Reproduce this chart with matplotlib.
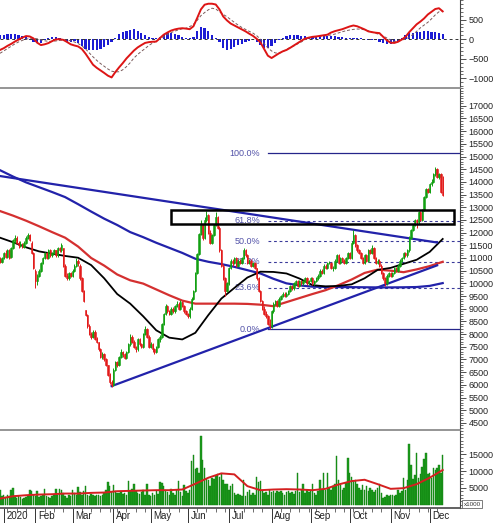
import numpy as np
import pandas as pd
import matplotlib
matplotlib.use('Agg')
import matplotlib.pyplot as plt
from matplotlib.patches import Rectangle
from matplotlib.ticker import MultipleLocator, FixedLocator
from matplotlib.transforms import ScaledTranslation

plt.rcParams['font.family'] = ['Liberation Sans', 'DejaVu Sans']

# trading calendar (HOSE 2020)
holidays = ['2020-01-01', '2020-01-23', '2020-01-24', '2020-01-27', '2020-01-28',
            '2020-01-29', '2020-04-02', '2020-04-30', '2020-05-01', '2020-09-02']
days = pd.bdate_range('2019-12-30', '2020-12-10')
days = days[~days.isin(pd.to_datetime(holidays))]

# daily OHLC, one row per month
opens = [10950, 10850,
    11000, 11200, 11050, 11300, 11050, 11400, 11700, 11800, 11600, 11500, 11550, 11450, 11600, 11800, 11900, 11600, 11200,
    10500, 10100, 10300, 10500, 10800, 11000, 11200, 11000, 11300, 11100, 11200, 11300, 11100, 11400, 11300, 11400, 10700, 10300, 10200, 10400,
    10300, 10500, 10700, 10900, 10700, 10200, 9700, 8950, 8750, 8300, 8000, 7900, 8100, 7800, 7700, 7400, 7100, 7200, 7000, 6800, 6400, 6100,
    6000, 6600, 6900, 6800, 7100, 7300, 7200, 7050, 7300, 7600, 7900, 7700, 7500, 7400, 7800, 7600, 7500, 8000, 8200, 7900,
    7500, 7600, 7400, 7300, 7500, 7800, 7900, 8400, 8800, 9100, 8900, 8800, 9000, 8900, 9100, 9200, 9000, 9250, 9100, 8900,
    8800, 8700, 9000, 9400, 9700, 10400, 11150, 11950, 12300, 11800, 12500, 12700, 12000, 11600, 11900, 12300, 12600, 12200, 11300, 10700, 10200, 9700,
    10000, 10600, 10900, 10800, 11000, 10700, 10900, 10800, 11000, 11300, 11100, 10800, 10900, 10700, 10800, 10600, 10200, 9700, 9300, 9000, 8800, 8700, 8400,
    8300, 8900, 9200, 9300, 9100, 9400, 9500, 9600, 9500, 9600, 9700, 9900, 9800, 10000, 10100, 9900, 10100, 10000, 10100, 10200, 10000,
    10100, 10200, 10000, 10100, 10200, 10300, 10500, 10400, 10700, 10600, 10800, 10800, 10600, 10600, 10900, 11100, 10800, 11000, 10900, 10800, 11000,
    11200, 11000, 11600, 11900, 11500, 11300, 11200, 11000, 10800, 11100, 10900, 11300, 11200, 11400, 11000, 10800, 10900, 10700, 10400, 10200, 10000, 10300,
    10400, 10300, 10400, 10600, 10500, 10700, 10900, 11000, 11200, 11100, 11300, 11800, 12100, 12300, 12500, 12400, 12800, 12500, 12900, 13400, 13700,
    13600, 13900, 14000, 14300, 14500, 14200, 14300, 13600]
highs = [11050, 11050,
    11250, 11300, 11350, 11350, 11450, 11750, 11900, 11850, 11650, 11650, 11600, 11650, 11850, 12000, 11950, 11650, 11250,
    10550, 10350, 10550, 10850, 11050, 11250, 11250, 11350, 11350, 11250, 11350, 11300, 11450, 11450, 11600, 11400, 10750, 10400, 10450, 10450,
    10550, 10750, 11000, 10950, 10750, 10250, 9750, 8950, 8800, 8400, 8100, 8150, 8150, 7900, 7700, 7450, 7300, 7250, 7050, 6800, 6450, 6200,
    6650, 6950, 6950, 7150, 7400, 7350, 7250, 7350, 7650, 8000, 7950, 7750, 7550, 7850, 7850, 7650, 8050, 8300, 8250, 7950,
    7700, 7650, 7450, 7550, 7850, 7950, 8450, 8850, 9200, 9150, 8950, 9050, 9050, 9150, 9300, 9250, 9350, 9300, 9150, 8950,
    8850, 9050, 9450, 9750, 10450, 11200, 12000, 12500, 12350, 12600, 12850, 12750, 12100, 11950, 12350, 12800, 12650, 12250, 11350, 10750, 10250, 10050,
    10650, 10950, 10950, 11050, 11050, 10950, 10950, 11050, 11400, 11350, 11150, 10950, 10950, 10850, 10850, 10600, 10250, 9750, 9350, 9100, 8900, 8750, 8600,
    8950, 9250, 9350, 9350, 9450, 9550, 9650, 9650, 9650, 9750, 9950, 9950, 10050, 10150, 10150, 10150, 10150, 10150, 10250, 10250, 10150,
    10250, 10250, 10150, 10250, 10350, 10550, 10550, 10750, 10750, 10850, 10900, 10850, 10700, 10950, 11150, 11150, 11050, 11050, 10950, 11050, 11250,
    11250, 11650, 12100, 11950, 11550, 11350, 11250, 11050, 11150, 11150, 11350, 11350, 11500, 11450, 11050, 10950, 10950, 10750, 10450, 10250, 10350, 10450,
    10450, 10450, 10650, 10650, 10750, 10950, 11050, 11250, 11250, 11350, 11850, 12150, 12350, 12550, 12550, 12850, 12850, 12950, 13450, 13750, 13750,
    13950, 14100, 14350, 14600, 14550, 14350, 14350, 14250]
lows = [10800, 10800,
    10950, 11000, 11000, 10950, 11000, 11350, 11600, 11550, 11400, 11450, 11400, 11400, 11550, 11750, 11650, 11150, 10550,
    9800, 9950, 10250, 10450, 10750, 10950, 10950, 10950, 11050, 11050, 11150, 11050, 11050, 11250, 11250, 10650, 10250, 10150, 10150, 10250,
    10250, 10450, 10650, 10700, 10150, 9650, 9250, 8700, 8250, 7950, 7800, 7850, 7750, 7650, 7350, 7050, 7000, 6950, 6750, 6350, 6050, 5900,
    5950, 6550, 6700, 6750, 7050, 7100, 7000, 7000, 7250, 7550, 7650, 7450, 7300, 7350, 7550, 7450, 7450, 7950, 7850, 7450,
    7450, 7300, 7200, 7250, 7450, 7700, 7850, 8350, 8750, 8850, 8750, 8750, 8850, 8850, 9050, 8950, 8950, 9050, 8850, 8750,
    8650, 8650, 8950, 9350, 9650, 10350, 11100, 11900, 11700, 11750, 12400, 11950, 11550, 11550, 11850, 12250, 12150, 11250, 10650, 10150, 9500, 9650,
    9950, 10550, 10700, 10750, 10650, 10650, 10750, 10750, 10950, 11050, 10750, 10750, 10650, 10650, 10550, 10150, 9650, 9250, 8950, 8750, 8650, 8350, 8200,
    8250, 8850, 9150, 9050, 9050, 9350, 9450, 9450, 9450, 9550, 9650, 9750, 9750, 9950, 9850, 9850, 9950, 9950, 10050, 9950, 9950,
    10050, 9950, 9950, 10050, 10150, 10250, 10350, 10350, 10550, 10550, 10750, 10550, 10500, 10550, 10850, 10750, 10750, 10850, 10750, 10750, 10950,
    10950, 10950, 11550, 11450, 11250, 11150, 10950, 10750, 10750, 10850, 10850, 11150, 11150, 10950, 10750, 10750, 10650, 10350, 10150, 9900, 9950, 10250,
    10250, 10250, 10350, 10450, 10450, 10650, 10850, 10950, 11050, 11050, 11250, 11750, 12050, 12250, 12200, 12350, 12450, 12450, 12850, 13350, 13550,
    13550, 13850, 13950, 14250, 14150, 14100, 13550, 13450]
closes = [10850, 11000,
    11200, 11050, 11300, 11000, 11400, 11700, 11800, 11600, 11500, 11550, 11450, 11600, 11800, 11900, 11700, 11200, 10600,
    10100, 10300, 10500, 10800, 11000, 11200, 11000, 11300, 11100, 11200, 11300, 11100, 11400, 11300, 11500, 10700, 10300, 10200, 10400, 10300,
    10500, 10700, 10900, 10800, 10200, 9700, 9300, 8750, 8300, 8000, 7900, 8100, 7800, 7700, 7400, 7100, 7200, 7000, 6800, 6400, 6100, 6000,
    6600, 6900, 6800, 7100, 7300, 7200, 7050, 7300, 7600, 7900, 7700, 7500, 7400, 7800, 7600, 7500, 8000, 8200, 7900, 7500,
    7600, 7400, 7300, 7500, 7800, 7900, 8400, 8800, 9100, 8900, 8800, 9000, 8900, 9100, 9200, 9000, 9250, 9100, 8900, 8800,
    8700, 9000, 9400, 9700, 10400, 11150, 11950, 12300, 11800, 12500, 12700, 12000, 11600, 11900, 12300, 12600, 12200, 11300, 10700, 10200, 9700, 10000,
    10600, 10900, 10800, 11000, 10700, 10900, 10800, 11000, 11300, 11100, 10800, 10900, 10700, 10800, 10600, 10200, 9700, 9300, 9000, 8800, 8700, 8400, 8300,
    8900, 9200, 9300, 9100, 9400, 9500, 9600, 9500, 9600, 9700, 9900, 9800, 10000, 10100, 9900, 10100, 10000, 10100, 10200, 10000, 10100,
    10200, 10000, 10100, 10200, 10300, 10500, 10400, 10700, 10600, 10800, 10800, 10600, 10600, 10900, 11100, 10800, 11000, 10900, 10800, 11000, 11200,
    11000, 11600, 11900, 11500, 11300, 11200, 11000, 10800, 11100, 10900, 11300, 11200, 11400, 11000, 10800, 10900, 10700, 10400, 10200, 10000, 10300, 10400,
    10300, 10400, 10600, 10500, 10700, 10900, 11000, 11200, 11100, 11300, 11800, 12100, 12300, 12500, 12400, 12800, 12500, 12900, 13400, 13700, 13600,
    13900, 14000, 14300, 14500, 14200, 14300, 13600, 13500]

# volume (x1000 shares)
volume = [4300, 2500,
    3000, 2200, 2800, 2500, 4500, 4900, 2500, 2000, 2500, 2200, 1800, 2000, 2300, 2600, 4300, 4200, 3000,
    2500, 4000, 2200, 2500, 2800, 4600, 2500, 2200, 2000, 2500, 3000, 4600, 2800, 4800, 4400, 3600, 2500, 2000, 3000, 2500,
    4500, 3500, 2800, 5200, 3800, 3000, 4000, 5600, 3000, 2500, 3200, 2800, 2600, 3000, 2800, 2500, 3000, 3500, 4500, 6800, 5500, 3800,
    5800, 4200, 3500, 3400, 3800, 3200, 3500, 3000, 7000, 4200, 4800, 6000, 4000, 3500, 3200, 3800, 4500, 2800, 6200, 3000,
    2500, 3500, 2800, 4000, 3200, 6800, 6500, 5500, 4500, 3800, 2800, 4800, 3500, 3000, 4500, 7000, 3800, 2500, 5800, 4000,
    3600, 4500, 13000, 14800, 10500, 11000, 9500, 20300, 13300, 11000, 7500, 7400, 5500, 8000, 7500, 8600, 9000, 8300, 9000, 7200, 6000, 6200,
    4500, 5500, 6000, 3500, 3000, 3200, 2800, 2500, 7300, 2500, 3800, 4300, 2800, 3500, 2800, 8300, 6800, 7000, 4000, 3500, 3800, 3000, 4500,
    3800, 4200, 3500, 4000, 3800, 4200, 3500, 3000, 3800, 4000, 3500, 3800, 3200, 4200, 9300, 3800, 4500, 6000, 3500, 4300, 3800,
    4300, 6000, 3500, 2800, 4000, 7300, 4300, 9300, 4500, 9300, 5000, 4500, 5500, 6000, 14600, 7300, 5800, 4500, 5000, 6500, 13900,
    9300, 8300, 7000, 7300, 6000, 5000, 4500, 5800, 4500, 5500, 4000, 5000, 4300, 3800, 4500, 5000, 6000, 3500, 2000, 2300, 2800, 2500,
    3000, 2800, 2500, 3000, 4300, 3500, 4000, 8000, 4500, 7300, 18100, 11800, 7500, 8800, 15300, 7800, 9000, 11300, 13500, 15300, 9000,
    9300, 8000, 10800, 10300, 11000, 11800, 9500, 14800]

# moving averages read every 7th session
ma_black = [11800, 11620, 11420, 11260, 11170, 11080, 11010, 10720, 10200, 9580, 9200, 8700,
            8150, 7860, 7790, 8050, 8750, 9400, 9820, 10230, 10460, 10450, 10390, 10190,
            9930, 9880, 9900, 9960, 10200, 10530, 10610, 10770, 10930, 11240, 11750]
ma_red = [12850, 12670, 12470, 12250, 12020, 11800, 11450, 11000, 10700, 10350, 10120, 9990,
          9760, 9530, 9320, 9200, 9200, 9200, 9200, 9190, 9160, 9100, 9260, 9420,
          9580, 9730, 9930, 10150, 10410, 10540, 10500, 10440, 10550, 10680, 10850]
ma_blue = [14460, 14210, 13980, 13790, 13600, 13400, 13120, 12830, 12550, 12300, 12020, 11820,
           11600, 11400, 11200, 10970, 10850, 10760, 10650, 10520, 10390, 10180, 10000, 9920,
           9870, 9860, 9855, 9850, 9845, 9840, 9840, 9845, 9855, 9900, 10010]
vol_ma = [1800, 2500, 2800, 3000, 3100, 3300, 3300, 3500, 3600, 4000, 4100, 4200,
          4300, 4300, 4500, 6200, 8000, 9300, 9000, 5500, 4300, 4500, 4600, 4500,
          4300, 4700, 6000, 7000, 7400, 6100, 4700, 4900, 6100, 8000, 10300]

# MACD panel, read every 2nd session
macd = [-275, -230, -170, -120, -60, -10, 40, 80, 70, 20,
        -90, -150, -130, -100, -50, -5, 0, -17, -70, -130,
        -160, -185, -250, -370, -510, -650, -730, -795, -860, -930,
        -975, -840, -720, -610, -490, -390, -290, -210, -150, -95,
        -75, -65, -60, 30, 115, 170, 220, 250, 270, 280,
        270, 255, 330, 540, 760, 880, 905, 905, 885, 760,
        580, 480, 400, 350, 300, 250, 200, 140, 85, 10,
        -80, -250, -420, -480, -420, -360, -310, -275, -220, -160,
        -100, -40, 15, 40, 60, 70, 85, 100, 115, 170,
        205, 230, 255, 290, 325, 350, 330, 290, 250, 200,
        180, 165, 155, 60, -30, -90, -95, -65, -10, 60,
        180, 280, 380, 450, 530, 630, 700, 770, 790, 710]
signal = [-360, -300, -240, -180, -120, -70, -30, 0, 20, 25,
          10, -15, -40, -55, -55, -45, -30, -20, -20, -40,
          -70, -110, -170, -250, -350, -450, -540, -620, -690, -760,
          -815, -835, -830, -780, -700, -600, -480, -390, -310, -240,
          -160, -100, -50, 0, 60, 120, 170, 205, 240, 265,
          280, 320, 380, 480, 600, 680, 750, 790, 770, 700,
          630, 575, 500, 430, 360, 300, 250, 200, 155, 90,
          0, -110, -220, -300, -350, -360, -320, -260, -210, -170,
          -120, -70, -10, 25, 45, 60, 70, 80, 90, 110,
          130, 160, 190, 215, 235, 250, 260, 255, 240, 215,
          180, 150, 120, 80, 30, -20, -60, -40, -20, 0,
          50, 120, 200, 290, 360, 430, 520, 620, 700, 730]
hist = [100, 110, 120, 125, 120, 110, 90, 60, -20, -70,
        -100, -90, -30, 30, 50, 45, 20, -30, -60, -60,
        -40, -90, -170, -240, -280, -280, -270, -250, -200, -150,
        -80, 40, 120, 180, 220, 245, 250, 220, 170, 110,
        60, 30, 25, 60, 130, 150, 150, 140, 100, 50,
        30, 20, 60, 200, 300, 280, 200, 100, 20, -80,
        -230, -280, -250, -200, -160, -120, -80, -50, -20, -60,
        -150, -230, -230, -180, -100, -20, 40, 80, 100, 100,
        100, 90, 80, 60, 50, 50, 60, 70, 80, 80,
        70, 60, 50, 40, 40, 40, 30, 20, 0, -20,
        -30, -30, -60, -100, -110, -110, -90, -40, 40, 110,
        150, 170, 180, 190, 200, 200, 190, 180, 160, 120]

# drawn objects: trend lines (session index, price), fibonacci, resistance box
trend_down = ([0, 235], [14230, 11610])
trend_up = ([60, 235], [5950, 10710])
fib_low, fib_high = 8200, 15120
fib_ratios = [0.0, 0.236, 0.382, 0.5, 0.618, 1.0]
fib_labels = ['0.0%', '23.6%', '38.2%', '50.0%', '61.8%', '100.0%']
fib_start = 144
box_sessions = (92, 244)
box_prices = (12320, 12880)

n = len(days)
for arr in (opens, highs, lows, closes, volume):
    assert len(arr) == n, len(arr)
x = np.arange(n)
o = np.array(opens); h = np.array(highs); l = np.array(lows); c = np.array(closes)
x_ma = np.arange(0, n, 7)
x_macd = np.arange(0, n, 2)

UP, DOWN = '#12a012', '#e21b1b'
NAVY = '#2222aa'

fig = plt.figure(figsize=(5.0, 5.23), dpi=100)
ax_m = fig.add_axes([0, 1 - 88/523, 0.92, 88/523])
ax_p = fig.add_axes([0, 1 - 430/523, 0.92, (430 - 88)/523])
ax_v = fig.add_axes([0, 1 - 508/523, 0.92, (508 - 430)/523])

xmax = 247.3
for ax in (ax_m, ax_p, ax_v):
    ax.set_xlim(0, xmax)
    ax.yaxis.tick_right()
    ax.spines['left'].set_visible(False)
    for s in ('top', 'bottom'):
        ax.spines[s].set_color('#8c8c8c')
        ax.spines[s].set_linewidth(1.3)
    ax.spines['right'].set_color('#444444')
    ax.spines['right'].set_linewidth(0.8)
    ax.tick_params(axis='y', which='major', length=4.5, width=0.6, pad=1.5,
                   labelsize=6.5, colors='#333333', labelcolor='#222222')
    ax.tick_params(axis='y', which='minor', length=2, width=0.5, colors='#333333')
ax_m.spines['top'].set_visible(False)
ax_m.spines['bottom'].set_visible(False)
ax_p.spines['bottom'].set_visible(False)
for ax in (ax_m, ax_p):
    ax.tick_params(axis='x', which='both', bottom=False, labelbottom=False)

# ---- MACD ----
ax_m.bar(x_macd, hist, width=1.2, color='#1c1cd4', linewidth=0)
ax_m.axhline(0, color='#333333', lw=0.7, ls=(0, (3, 3)))
ax_m.plot(x_macd, signal, color='#7a5a5a', lw=0.7, ls=(0, (3, 2)))
ax_m.plot(x_macd, macd, color='#dd1515', lw=1.4)
ax_m.set_ylim(-1245, 1000)
ax_m.yaxis.set_major_locator(FixedLocator([-1000, -500, 0, 500]))
ax_m.yaxis.set_minor_locator(MultipleLocator(100))

# ---- price ----
ax_p.plot(x_ma, ma_blue, color=NAVY, lw=1.6, zorder=2)
ax_p.plot(x_ma, ma_red, color='#d43030', lw=1.6, zorder=2)
ax_p.plot(x_ma, ma_black, color='black', lw=1.3, zorder=2)
ax_p.plot(*trend_down, color=NAVY, lw=1.6, zorder=2)
ax_p.plot(*trend_up, color=NAVY, lw=1.6, zorder=2)

for r, lab in zip(fib_ratios, fib_labels):
    lvl = fib_low + r * (fib_high - fib_low)
    if r in (0.0, 1.0):
        ax_p.plot([fib_start, xmax], [lvl, lvl], color='#25258a', lw=0.9, zorder=1)
    else:
        ax_p.plot([fib_start, xmax], [lvl, lvl], color='#3a3a9a', lw=0.8,
                  ls=(0, (2.5, 2.5)), zorder=1)
    ax_p.text(fib_start - 4.2, lvl, lab, ha='right', va='center', fontsize=6.5,
              color='#5252a8', zorder=1)

ax_p.add_patch(Rectangle((box_sessions[0], box_prices[0]), box_sessions[1] - box_sessions[0],
                         box_prices[1] - box_prices[0], fill=False, ec='black', lw=1.8, zorder=4))

col = np.where(c >= o, UP, DOWN)
ax_p.vlines(x, l, h, colors=col, lw=0.7, zorder=3)
ax_p.bar(x, c - o, bottom=o, width=0.75, color=col, edgecolor=col, linewidth=0.4, zorder=3)

ax_p.set_ylim(4220, 17700)
ax_p.yaxis.set_major_locator(FixedLocator(np.arange(4500, 17001, 500)))
ax_p.yaxis.set_minor_locator(MultipleLocator(100))

# ---- volume ----
ax_v.bar(x, volume, width=0.8, color='#1c9c1c', edgecolor='#0f7a0f', linewidth=0.3)
ax_v.plot(x_ma, vol_ma, color='#d42020', lw=1.4)
ax_v.set_ylim(-1000, 22200)
ax_v.yaxis.set_major_locator(FixedLocator([5000, 10000, 15000]))
ax_v.yaxis.set_minor_locator(MultipleLocator(1000))
ax_v.spines['bottom'].set_color('#555555')

month_idx = [i for i in range(n) if days[i].year == 2020 and (i == 0 or days[i].month != days[i - 1].month)]
month_lab = ['2020' if days[i].month == 1 else days[i].strftime('%b') for i in month_idx]
week_idx = [i for i in range(1, n) if days[i].weekday() < days[i - 1].weekday()]
ax_v.xaxis.set_major_locator(FixedLocator(month_idx))
ax_v.xaxis.set_minor_locator(FixedLocator(week_idx))
ax_v.set_xticklabels(month_lab)
ax_v.tick_params(axis='x', which='major', length=11, width=0.7, pad=-9, labelsize=7,
                 colors='#333333', labelcolor='#222222')
ax_v.tick_params(axis='x', which='minor', length=3, width=0.5, colors='#333333')
shift = ScaledTranslation(2 / 72, 0, fig.dpi_scale_trans)
for lab in ax_v.get_xticklabels():
    lab.set_horizontalalignment('left')
    lab.set_transform(lab.get_transform() + shift)

fig.text(0.927, 1 - 504/523, 'x1000', fontsize=4.5, color='#333333', va='center', ha='left',
         bbox=dict(boxstyle='square,pad=0.2', fc='white', ec='#666666', lw=0.6))

fig.savefig('out.png', dpi=100)
